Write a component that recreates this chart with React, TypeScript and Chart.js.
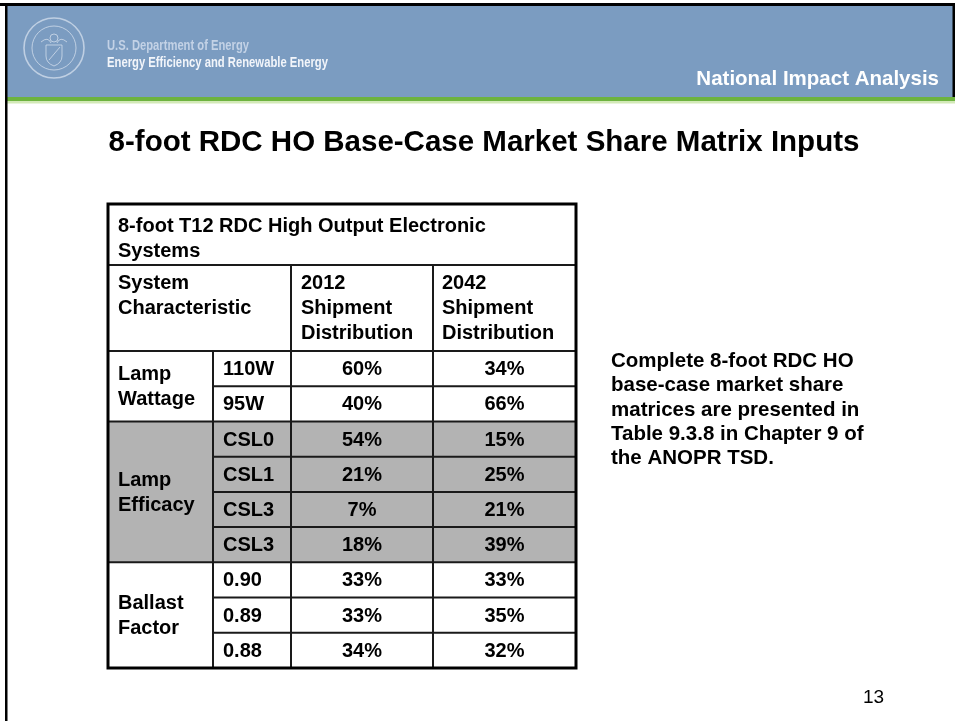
import React, { useEffect, useRef } from 'react';
import { Chart, registerables } from 'chart.js';

Chart.register(...registerables);

// ---- content / data ----
const orgLines = ['U.S. Department of Energy', 'Energy Efficiency and Renewable Energy'];
const sectionLabel = 'National Impact Analysis';
const title = '8-foot RDC HO Base-Case Market Share Matrix Inputs';
const tableCaption = ['8-foot T12 RDC High Output Electronic', 'Systems'];
const columnHeaders = [
  ['System', 'Characteristic'],
  ['2012', 'Shipment', 'Distribution'],
  ['2042', 'Shipment', 'Distribution'],
];
const groups = [
  ['Lamp', 'Wattage'],
  ['Lamp', 'Efficacy'],
  ['Ballast', 'Factor'],
];
const groupSizes = [2, 4, 3];
const groupShaded = [false, true, false];
const options = ['110W', '95W', 'CSL0', 'CSL1', 'CSL3', 'CSL3', '0.90', '0.89', '0.88'];
const share2012 = [60, 40, 54, 21, 7, 18, 33, 33, 34];
const share2042 = [34, 66, 15, 25, 21, 39, 33, 35, 32];
const noteLines = [
  'Complete 8-foot RDC HO',
  'base-case market share',
  'matrices are presented in',
  'Table 9.3.8 in Chapter 9 of',
  'the ANOPR TSD.',
];
const pageNumber = '13';

// ---- layout (page units, mapped through the chart's scales) ----
const W = 955;
const H = 721;
const TBL = {
  cols: [108, 213, 291, 433, 576],
  top: 204,
  captionBottom: 265,
  headBottom: 351,
  bottom: 668,
};
const SANS = '"Liberation Sans", Arial, Helvetica, sans-serif';
const NARROW = '"Liberation Sans Narrow", "Arial Narrow", "Liberation Sans", sans-serif';

const slidePlugin = {
  id: 'slide',
  beforeDraw(chart: any) {
    const ctx: CanvasRenderingContext2D = chart.ctx;
    const sx = chart.scales.x;
    const sy = chart.scales.y;
    const X = (v: number) => sx.getPixelForValue(v);
    const Y = (v: number) => sy.getPixelForValue(v);

    ctx.save();
    ctx.fillStyle = '#ffffff';
    ctx.fillRect(X(0), Y(0), X(W) - X(0), Y(H) - Y(0));

    // header band
    ctx.fillStyle = '#7b9cc1';
    ctx.fillRect(X(7), Y(6), X(953) - X(7), Y(97) - Y(6));
    ctx.fillStyle = '#6db33f';
    ctx.fillRect(X(7), Y(97), X(955) - X(7), Y(101) - Y(97));
    ctx.fillStyle = '#d3e9b8';
    ctx.fillRect(X(7), Y(101), X(955) - X(7), Y(103.5) - Y(101));

    // slide border
    ctx.fillStyle = '#000000';
    ctx.fillRect(X(0), Y(3), X(W) - X(0), Y(6) - Y(3));
    ctx.fillRect(X(5), Y(3), X(7.5) - X(5), Y(H) - Y(3));
    ctx.fillRect(X(952.5), Y(3), X(955) - X(952.5), Y(97) - Y(3));

    // seal
    const cx = X(54);
    const cy = Y(48);
    ctx.strokeStyle = 'rgba(214,224,238,0.75)';
    ctx.lineWidth = 1.6;
    ctx.beginPath();
    ctx.arc(cx, cy, 30, 0, Math.PI * 2);
    ctx.stroke();
    ctx.lineWidth = 1;
    ctx.beginPath();
    ctx.arc(cx, cy, 22, 0, Math.PI * 2);
    ctx.stroke();
    ctx.beginPath();
    ctx.moveTo(cx - 8, cy - 3);
    ctx.lineTo(cx + 8, cy - 3);
    ctx.lineTo(cx + 8, cy + 8);
    ctx.quadraticCurveTo(cx + 8, cy + 15, cx, cy + 18);
    ctx.quadraticCurveTo(cx - 8, cy + 15, cx - 8, cy + 8);
    ctx.closePath();
    ctx.stroke();
    ctx.beginPath();
    ctx.moveTo(cx - 5, cy + 12);
    ctx.lineTo(cx + 6, cy - 1);
    ctx.stroke();
    ctx.beginPath();
    ctx.arc(cx, cy - 10, 4, 0, Math.PI * 2);
    ctx.stroke();
    ctx.beginPath();
    ctx.moveTo(cx - 13, cy - 6);
    ctx.quadraticCurveTo(cx - 6, cy - 12, cx - 3, cy - 5);
    ctx.moveTo(cx + 13, cy - 6);
    ctx.quadraticCurveTo(cx + 6, cy - 12, cx + 3, cy - 5);
    ctx.stroke();

    // org text
    ctx.textBaseline = 'alphabetic';
    ctx.textAlign = 'left';
    ctx.font = `bold 14px ${NARROW}`;
    ctx.fillStyle = '#c3d2e6';
    ctx.fillText(orgLines[0], X(107), Y(50), 142);
    ctx.fillStyle = '#f2f5fa';
    ctx.font = `bold 15px ${NARROW}`;
    ctx.fillText(orgLines[1], X(107), Y(67), 221);

    // section label
    ctx.fillStyle = '#ffffff';
    ctx.textAlign = 'right';
    ctx.font = `bold 20.5px ${SANS}`;
    ctx.fillText(sectionLabel, X(939), Y(85));

    // title
    ctx.fillStyle = '#000000';
    ctx.textAlign = 'center';
    ctx.font = `bold 29.5px ${SANS}`;
    ctx.fillText(title, X(484), Y(151));

    // ---- table ----
    const [c0, c1, c2, c3, c4] = TBL.cols.map(X);
    const nRows = options.length;
    const rowH = (TBL.bottom - TBL.headBottom) / nRows;
    const rowTop = (i: number) => Y(TBL.headBottom + i * rowH);

    // shading
    let start = 0;
    groups.forEach((_, g) => {
      if (groupShaded[g]) {
        ctx.fillStyle = '#b3b3b3';
        ctx.fillRect(c0, rowTop(start), c4 - c0, rowTop(start + groupSizes[g]) - rowTop(start));
      }
      start += groupSizes[g];
    });

    // inner lines
    ctx.strokeStyle = '#1a1a1a';
    ctx.lineWidth = 2;
    const hline = (xa: number, xb: number, y: number) => {
      ctx.beginPath();
      ctx.moveTo(xa, y);
      ctx.lineTo(xb, y);
      ctx.stroke();
    };
    const vline = (x: number, ya: number, yb: number) => {
      ctx.beginPath();
      ctx.moveTo(x, ya);
      ctx.lineTo(x, yb);
      ctx.stroke();
    };
    hline(c0, c4, Y(TBL.captionBottom));
    hline(c0, c4, Y(TBL.headBottom));
    start = 0;
    groups.forEach((_, g) => {
      for (let k = 1; k < groupSizes[g]; k++) hline(c1, c4, rowTop(start + k));
      start += groupSizes[g];
      if (g < groups.length - 1) hline(c0, c4, rowTop(start));
    });
    vline(c1, Y(TBL.headBottom), Y(TBL.bottom));
    vline(c2, Y(TBL.captionBottom), Y(TBL.bottom));
    vline(c3, Y(TBL.captionBottom), Y(TBL.bottom));

    // outer border
    ctx.strokeStyle = '#000000';
    ctx.lineWidth = 3;
    ctx.strokeRect(c0, Y(TBL.top), c4 - c0, Y(TBL.bottom) - Y(TBL.top));

    // texts
    ctx.fillStyle = '#000000';
    ctx.font = `bold 20px ${SANS}`;
    ctx.textAlign = 'left';
    ctx.textBaseline = 'alphabetic';
    tableCaption.forEach((t, i) => ctx.fillText(t, c0 + 10, Y(232 + i * 24.5)));
    const headX = [c0 + 10, c2 + 10, c3 + 9];
    columnHeaders.forEach((lines, j) => {
      lines.forEach((t, i) => ctx.fillText(t, headX[j], Y(289 + i * 25)));
    });

    const lineGap = 25;
    start = 0;
    groups.forEach((lines, g) => {
      const mid = (rowTop(start) + rowTop(start + groupSizes[g])) / 2;
      ctx.textAlign = 'left';
      ctx.textBaseline = 'middle';
      lines.forEach((t, i) => {
        ctx.fillText(t, c0 + 10, mid + (i - (lines.length - 1) / 2) * lineGap + 1);
      });
      start += groupSizes[g];
    });

    options.forEach((opt, i) => {
      const mid = (rowTop(i) + rowTop(i + 1)) / 2 + 1;
      ctx.textBaseline = 'middle';
      ctx.textAlign = 'left';
      ctx.fillText(opt, c1 + 10, mid);
      ctx.textAlign = 'center';
      ctx.fillText(`${share2012[i]}%`, (c2 + c3) / 2, mid);
      ctx.fillText(`${share2042[i]}%`, (c3 + c4) / 2, mid);
    });

    // note
    ctx.textAlign = 'left';
    ctx.textBaseline = 'alphabetic';
    ctx.font = `bold 20.5px ${SANS}`;
    noteLines.forEach((t, i) => ctx.fillText(t, X(611), Y(367 + i * 24.3)));

    // page number
    ctx.font = `19px ${SANS}`;
    ctx.fillText(pageNumber, X(863), Y(703));

    ctx.restore();
  },
};

export default function App() {
  const ref = useRef<HTMLCanvasElement | null>(null);

  useEffect(() => {
    document.body.style.margin = '0';
    const canvas = ref.current;
    if (!canvas) return;
    const chart = new Chart(canvas, {
      type: 'scatter',
      data: { datasets: [] },
      options: {
        animation: false,
        responsive: false,
        devicePixelRatio: 1,
        layout: { padding: 0 },
        events: [],
        plugins: { legend: { display: false }, tooltip: { enabled: false }, title: { display: false } },
        scales: {
          x: { type: 'linear', min: 0, max: W, display: false },
          y: { type: 'linear', min: 0, max: H, reverse: true, display: false },
        },
      },
      plugins: [slidePlugin],
    } as any);
    return () => chart.destroy();
  }, []);

  return (
    <div style={{ width: W, height: H }}>
      <canvas ref={ref} width={W} height={H} style={{ display: 'block', width: W, height: H }} />
    </div>
  );
}
